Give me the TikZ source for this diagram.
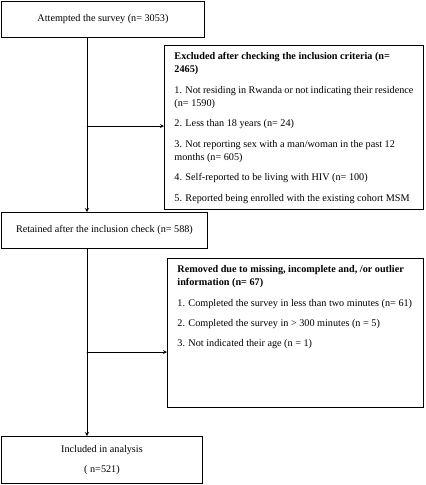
\documentclass[tikz,border=0pt]{standalone}
\usepackage{fontspec}
\setmainfont{Liberation Serif}
\begin{document}
\begin{tikzpicture}[x=1pt, y=-1pt, >=stealth, line cap=round,
  every node/.style={font=\fontsize{10.2}{13.3}\selectfont},
  stagebox/.style={draw, line width=0.9pt, anchor=north west, align=center, inner sep=0pt},
  listbox/.style={draw, line width=0.9pt, anchor=north west, inner xsep=10pt, inner ysep=7pt},
  flow/.style={->, line width=0.8pt}]

\useasboundingbox (0,0) rectangle (426,485);

% main stages down the left
\node[stagebox, minimum width=203pt, minimum height=36pt] (attempt) at (1,1) {Attempted the survey (n= 3053)};
\node[stagebox, minimum width=206pt, minimum height=36pt] (retain) at (1,212) {Retained after the inclusion check (n= 588)};
\node[stagebox, minimum width=201pt, minimum height=47pt] (incl) at (1,436) {Included in analysis\\[6pt]( n=521)};

% exclusions on the right
\node[listbox] (excl) at (164,45) {\parbox[t][150pt][t]{239pt}{\raggedright
  \textbf{Excluded after checking the inclusion criteria (n=}\\
  \textbf{2465)}\\[7pt]
  1. Not residing in Rwanda or not indicating their residence\\
  (n= 1590)\\[7pt]
  2. Less than 18 years (n= 24)\\[7pt]
  3. Not reporting sex with a man/woman in the past 12\\
  months (n= 605)\\[7pt]
  4. Self-reported to be living with HIV (n= 100)\\[7pt]
  5. Reported being enrolled with the existing cohort MSM}};
\node[listbox] (removed) at (167,258) {\parbox[t][135pt][t]{236pt}{\raggedright
  \textbf{Removed due to missing, incomplete and, /or outlier}\\
  \textbf{information (n= 67)}\\[7pt]
  1. Completed the survey in less than two minutes (n= 61)\\[7pt]
  2. Completed the survey in > 300 minutes (n = 5)\\[7pt]
  3. Not indicated their age (n = 1)}};

% connectors
\coordinate (split1) at (87,126);
\coordinate (split2) at (87,352);
\draw[flow] (attempt.south -| split1) -- (retain.north -| split1);
\draw[flow] (retain.south -| split1) -- (incl.north -| split1);
\draw[flow] (split1) -- (split1 -| excl.west);
\draw[flow] (split2) -- (split2 -| removed.west);

\end{tikzpicture}
\end{document}
